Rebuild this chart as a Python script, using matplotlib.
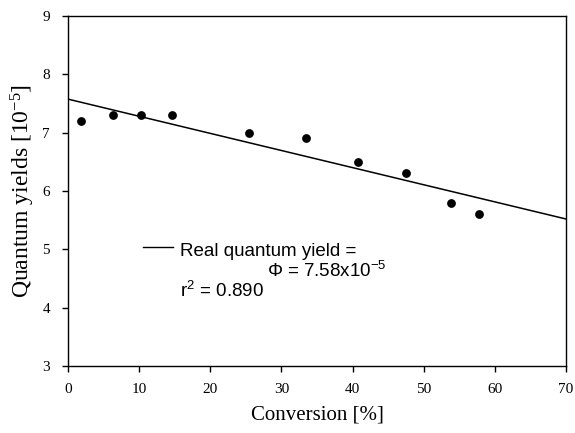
import numpy as np
import matplotlib.pyplot as plt
from matplotlib.ticker import MultipleLocator

conversion = [1.8, 6.3, 10.3, 14.6, 25.4, 33.5, 40.7, 47.5, 53.8, 57.8]
yields = [7.2, 7.3, 7.3, 7.3, 7.0, 6.9, 6.5, 6.3, 5.8, 5.6]
fit_x = [0, 70]
fit_y = [7.575, 5.52]

fig = plt.figure(figsize=(5.75, 4.33), dpi=100)
ax = fig.add_axes([68/575, 1-366/433, (566-68)/575, (366-16)/433])

ax.plot(fit_x, fit_y, color='black', linewidth=1.1)
ax.scatter(conversion, yields, s=28, color='black', zorder=3)

ax.set_xlim(0, 70)
ax.set_ylim(3, 9)
ax.xaxis.set_major_locator(MultipleLocator(10))
ax.yaxis.set_major_locator(MultipleLocator(1))
ax.tick_params(direction='out', length=4, width=1, top=False, right=False,
               labelsize=11)
ax.tick_params(axis='x', pad=8)
ax.tick_params(axis='y', pad=9)
for lab in ax.get_xticklabels() + ax.get_yticklabels():
    lab.set_family('Liberation Serif')
for s in ax.spines.values():
    s.set_linewidth(1)

ax.set_xlabel('Conversion [%]', family='Liberation Serif', fontsize=15, labelpad=7)
ax.set_ylabel(r'Quantum yields [10$\mathregular{^{-5}}$]', family='Liberation Serif',
              fontsize=17, labelpad=4)

# legend-like annotation
ax.plot([10.5, 14.8], [5.045, 5.045], color='black', linewidth=1)
sans = dict(family='Liberation Sans', fontsize=13.5, va='baseline', ha='left')
ax.text(15.75, 4.886, 'Real quantum yield =', **sans)
ax.text(27.95, 4.526, r'$\mathregular{\Phi}$ = 7.58x10$\mathregular{^{-5}}$', **sans)
ax.text(15.75, 4.183, r'r$\mathregular{^2}$ = 0.890', **sans)

fig.savefig('out.png')
